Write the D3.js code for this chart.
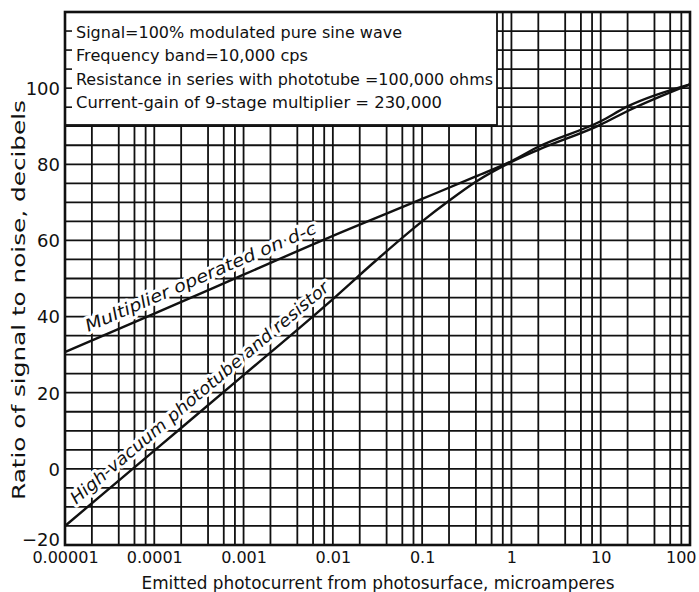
<!DOCTYPE html>
<html>
<head>
<meta charset="utf-8">
<script src="https://cdn.jsdelivr.net/npm/d3@7"></script>
<style>
  body { margin: 0; background: #fff; }
  text { font-family: "DejaVu Sans", sans-serif; fill: #111; }
</style>
</head>
<body>
<svg id="chart" width="699" height="592"></svg>
<script>
// current in microamperes (log axis), ratio in dB
const multiplierI  = [1e-5, 1e-4, 1e-3, 1e-2, 0.1, 0.4, 1, 2, 10, 20, 100];
const multiplierDb = [30.7, 40.8, 51, 61.2, 70.9, 76.8, 80.8, 84.6, 91.3, 95.2, 101];

const vacuumI  = [1e-5, 1e-4, 1e-3, 1e-2, 0.03, 0.1, 0.2, 0.4, 1, 2, 10, 20, 100];
const vacuumDb = [-15, 4.8, 24.6, 44.6, 54.6, 65, 70.4, 75.4, 80.6, 83.8, 90.4, 94, 101];

const xTickValues = [1e-5, 1e-4, 1e-3, 1e-2, 0.1, 1, 10, 100];
const xTickLabels = ["0.00001", "0.0001", "0.001", "0.01", "0.1", "1", "10", "100"];
const yTickValues = [-20, 0, 20, 40, 60, 80, 100];
const gridSteps = [1, 2, 4, 6, 8];

const noteLines = [
  "Signal=100% modulated pure sine wave",
  "Frequency band=10,000 cps",
  "Resistance in series with phototube =100,000 ohms",
  "Current-gain of 9-stage multiplier = 230,000"
];

const svg = d3.select("#chart");
const plot = { left: 65, right: 690, top: 12, bottom: 545 };

const x = d3.scaleLog().domain([1e-5, 100]).range([plot.left, plot.right]);
const y = d3.scaleLinear().domain([-20, 120]).range([plot.bottom, plot.top]);

// grid
const xGrid = [];
xTickValues.slice(0, -1).forEach(d => gridSteps.forEach(m => xGrid.push(d * m)));
xGrid.push(100);
const yGrid = d3.range(-20, 121, 5);

const grid = svg.append("g").attr("stroke", "#111").attr("stroke-width", 1.8);
grid.selectAll("line.v").data(xGrid).join("line")
  .attr("class", "v")
  .attr("x1", d => x(d)).attr("x2", d => x(d))
  .attr("y1", plot.top).attr("y2", plot.bottom);
grid.selectAll("line.h").data(yGrid).join("line")
  .attr("class", "h")
  .attr("x1", plot.left).attr("x2", plot.right)
  .attr("y1", d => y(d)).attr("y2", d => y(d));

// notes box hides the top-left grid
const box = { x0: 65, x1: 497, y0: 12, y1: 125 };
svg.append("rect")
  .attr("x", box.x0).attr("y", box.y0)
  .attr("width", box.x1 - box.x0).attr("height", box.y1 - box.y0)
  .attr("fill", "#fff").attr("stroke", "#111").attr("stroke-width", 1.8);

svg.append("g").attr("stroke", "#111").attr("stroke-width", 1.6)
  .selectAll("line").data([95, 100, 105, 110, 115]).join("line")
  .attr("x1", plot.left).attr("x2", plot.left + 7)
  .attr("y1", d => y(d)).attr("y2", d => y(d));

const noteBase = [38, 61, 85, 108];
const noteLen = [326, 232, 417, 366];
svg.append("g").selectAll("text").data(noteLines).join("text")
  .attr("x", 76).attr("y", (d, i) => noteBase[i])
  .attr("font-size", 15)
  .attr("textLength", (d, i) => noteLen[i])
  .attr("lengthAdjust", "spacingAndGlyphs")
  .text(d => d);

// frame
svg.append("rect")
  .attr("x", plot.left).attr("y", plot.top)
  .attr("width", plot.right - plot.left).attr("height", plot.bottom - plot.top)
  .attr("fill", "none").attr("stroke", "#111").attr("stroke-width", 2.6);

// curve labels, laid along the low-current part of each line (white halo over the grid)
function curveLabel(I, Db, from, text, len, gap) {
  const p0 = [x(I[0]), y(Db[0])];
  const p1 = [x(I[3]), y(Db[3])];
  const ang = Math.atan2(p1[1] - p0[1], p1[0] - p0[0]) * 180 / Math.PI;
  const px = x(from);
  const t = (px - p0[0]) / (p1[0] - p0[0]);
  const py = p0[1] + t * (p1[1] - p0[1]);
  svg.append("text")
    .attr("transform", `translate(${px},${py}) rotate(${ang})`)
    .attr("y", -gap)
    .attr("font-size", 17).attr("font-style", "italic")
    .attr("textLength", len).attr("lengthAdjust", "spacingAndGlyphs")
    .attr("stroke", "#fff").attr("stroke-width", 6)
    .attr("stroke-linejoin", "round").attr("paint-order", "stroke")
    .text(text);
}
curveLabel(multiplierI, multiplierDb, 2e-5, "Multiplier operated on d-c", 250, 9);
curveLabel(vacuumI, vacuumDb, 1.55e-5, "High-vacuum phototube and resistor", 333, 9);

// curves
const line = d3.line().x(d => x(d[0])).y(d => y(d[1])).curve(d3.curveMonotoneX);
const series = [
  d3.zip(multiplierI, multiplierDb),
  d3.zip(vacuumI, vacuumDb)
];
svg.append("g").selectAll("path").data(series).join("path")
  .attr("d", line)
  .attr("fill", "none").attr("stroke", "#111").attr("stroke-width", 2.4);

// axes
const xAxis = d3.axisBottom(x).tickValues(xTickValues)
  .tickFormat((d, i) => xTickLabels[i]).tickSize(0).tickPadding(7);
const gx = svg.append("g").attr("transform", `translate(0,${plot.bottom})`).call(xAxis);
gx.select(".domain").remove();
gx.selectAll("text")
  .attr("font-family", "'Liberation Sans', sans-serif")
  .attr("font-size", 16).attr("fill", "#111")
  .attr("text-anchor", d => d === 100 ? "end" : "middle")
  .attr("dx", d => d === 100 ? 6 : 0);

const yAxis = d3.axisLeft(y).tickValues(yTickValues).tickSize(0).tickPadding(5);
const gy = svg.append("g").attr("transform", `translate(${plot.left},0)`).call(yAxis);
gy.select(".domain").remove();
gy.selectAll("text")
  .attr("font-family", "'Liberation Sans', sans-serif")
  .attr("font-size", 18).attr("fill", "#111")
  .attr("dy", d => d === -20 ? "0.05em" : "0.35em");

svg.append("text")
  .attr("x", 378).attr("y", 589)
  .attr("text-anchor", "middle").attr("font-size", 17)
  .attr("textLength", 473).attr("lengthAdjust", "spacingAndGlyphs")
  .text("Emitted photocurrent from photosurface, microamperes");

svg.append("text")
  .attr("transform", "translate(25,300) rotate(-90)")
  .attr("text-anchor", "middle").attr("font-size", 18)
  .attr("textLength", 400).attr("lengthAdjust", "spacingAndGlyphs")
  .text("Ratio of signal to noise, decibels");
</script>
</body>
</html>
